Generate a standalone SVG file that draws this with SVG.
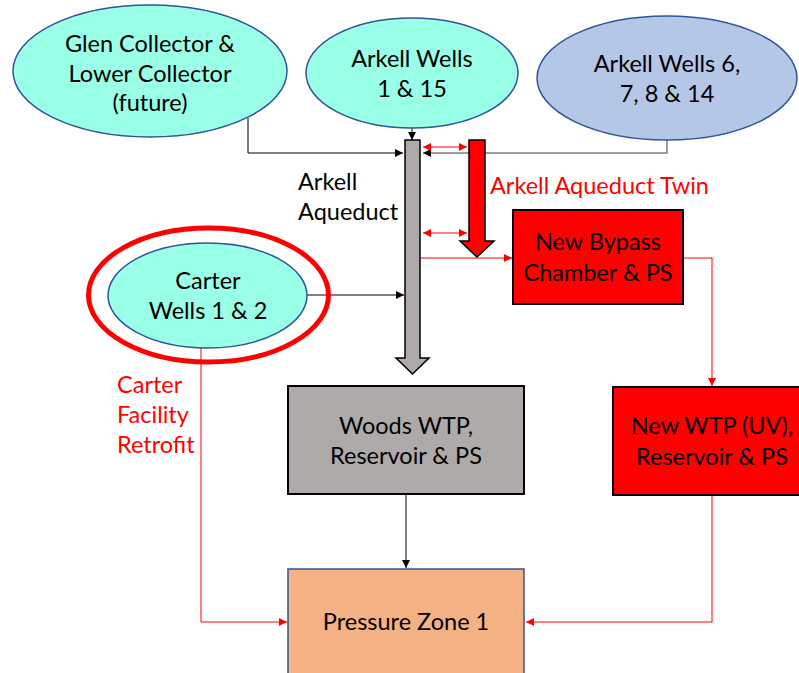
<svg xmlns="http://www.w3.org/2000/svg" width="799" height="673" viewBox="0 0 799 673">
<defs>
<style>
text{font-family:Lato,"Open Sans","Liberation Sans",sans-serif;font-size:23.5px;fill:#000;text-anchor:middle}
.red{fill:#FF0000}
.l{text-anchor:start}
.ell{fill:#99FFE6;stroke:#2F5597;stroke-width:1.5}
.blk{fill:none;stroke:#000;stroke-width:1}
.gry{fill:none;stroke:#7F7F7F;stroke-width:1.5}
.rl{fill:none;stroke:#FF0000;stroke-width:1}
</style>
<marker id="ab" markerWidth="10" markerHeight="10" refX="8" refY="4" orient="auto" markerUnits="userSpaceOnUse"><path d="M0,0 L8,4 L0,8 Z" fill="#000"/></marker>
<marker id="ar" markerWidth="10" markerHeight="10" refX="8" refY="4" orient="auto" markerUnits="userSpaceOnUse"><path d="M0,0 L8,4 L0,8 Z" fill="#FF0000"/></marker>
<marker id="ars" markerWidth="10" markerHeight="10" refX="0" refY="4" orient="auto" markerUnits="userSpaceOnUse"><path d="M8,0 L0,4 L8,8 Z" fill="#FF0000"/></marker>
</defs>

<g id="connectors">
<path class="blk" d="M248,118 V153 H403" marker-end="url(#ab)"/>
<path class="blk" d="M412,128 V140" marker-end="url(#ab)"/>
<path class="gry" d="M667,140 V153 H423" marker-end="url(#ab)"/>
<path class="blk" d="M307,295 H404" marker-end="url(#ab)"/>
<path class="rl" d="M423,147 H467" marker-start="url(#ars)" marker-end="url(#ar)"/>
<path class="rl" d="M423,233 H467" marker-start="url(#ars)" marker-end="url(#ar)"/>
<path class="rl" d="M421,258 H512" marker-end="url(#ar)"/>
<path class="rl" d="M683,258 H712 V386" marker-end="url(#ar)"/>
<path class="rl" d="M712,495 V622 H526" marker-end="url(#ar)"/>
<path class="rl" d="M201,348 V622 H287" marker-end="url(#ar)"/>
<path class="blk" d="M406,494 V568" marker-end="url(#ab)"/>
</g>

<g id="aqueduct">
<path d="M405,140 H420 V358 H429 L412.5,374 L396,358 H405 Z" fill="#AEAAAA" stroke="#000" stroke-width="1.5"/>
<text class="l" x="298" y="190">Arkell</text>
<text class="l" x="298" y="220">Aqueduct</text>
</g>

<g id="aqueduct-twin">
<path d="M469,140 H485 V241 H494 L477,257 L460,241 H469 Z" fill="#FF0000" stroke="#000" stroke-width="1.5"/>
<text class="l red" x="490" y="194">Arkell Aqueduct Twin</text>
</g>

<g id="glen">
<ellipse class="ell" cx="150" cy="71" rx="137" ry="66"/>
<text x="150" y="52">Glen Collector &amp;</text>
<text x="150" y="82">Lower Collector</text>
<text x="150" y="111">(future)</text>
</g>

<g id="arkell-1-15">
<ellipse class="ell" cx="412" cy="73" rx="106" ry="55"/>
<text x="412" y="67">Arkell Wells</text>
<text x="412" y="97">1 &amp; 15</text>
</g>

<g id="arkell-6-14">
<ellipse cx="667" cy="78" rx="130" ry="62" fill="#B4C7E7" stroke="#2F5597" stroke-width="1.5"/>
<text x="667" y="72">Arkell Wells 6,</text>
<text x="667" y="102">7, 8 &amp; 14</text>
</g>

<g id="carter">
<ellipse cx="208.5" cy="295" rx="120" ry="67" fill="none" stroke="#FF0000" stroke-width="5"/>
<ellipse class="ell" cx="207.5" cy="295.5" rx="99.5" ry="52.5"/>
<text x="208" y="289">Carter</text>
<text x="208" y="319">Wells 1 &amp; 2</text>
<text class="l red" x="117" y="393">Carter</text>
<text class="l red" x="117" y="423">Facility</text>
<text class="l red" x="117" y="453">Retrofit</text>
</g>

<g id="bypass">
<rect x="513" y="210" width="170" height="94" fill="#FF0000" stroke="#000" stroke-width="2"/>
<text x="598" y="250">New Bypass</text>
<text x="598" y="281">Chamber &amp; PS</text>
</g>

<g id="new-wtp">
<rect x="613" y="387" width="190" height="108" fill="#FF0000" stroke="#000" stroke-width="2"/>
<text x="712" y="434">New WTP (UV),</text>
<text x="712" y="465">Reservoir &amp; PS</text>
</g>

<g id="woods">
<rect x="288" y="386" width="236" height="108" fill="#AEAAAA" stroke="#000" stroke-width="2"/>
<text x="406" y="434">Woods WTP,</text>
<text x="406" y="464">Reservoir &amp; PS</text>
</g>

<g id="pz1">
<rect x="288" y="569" width="236" height="110" fill="#F4B183" stroke="#2F5597" stroke-width="1.5"/>
<text x="406" y="630">Pressure Zone 1</text>
</g>
</svg>
